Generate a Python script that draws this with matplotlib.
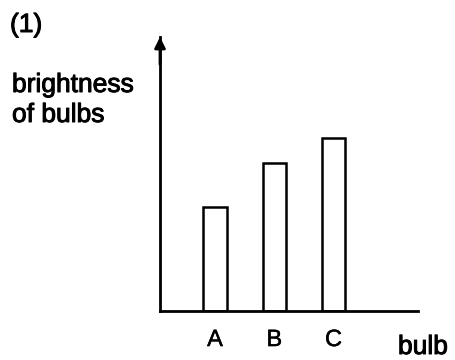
import matplotlib
matplotlib.use("Agg")
import matplotlib.pyplot as plt
import matplotlib.patheffects as pe

# Data
bulbs = ["A", "B", "C"]
brightness = [104, 148, 173]
y_top = 274
panel_label = "(1)"
y_label_lines = ["brightness", "of bulbs"]
x_label = "bulb"

plt.rcParams['font.family'] = ['Liberation Sans', 'DejaVu Sans']
thick = [pe.withStroke(linewidth=0.7, foreground="black")]

fig = plt.figure(figsize=(4.56, 3.6), dpi=100)
ax = fig.add_axes([160/456, (360-311)/360, (418-160)/456, 274/360])

pos = list(range(len(bulbs)))
ax.bar(pos, brightness, width=0.39, color="white", edgecolor="black",
       linewidth=1.8, joinstyle="miter")
ax.set_xlim(-0.928, 3.426)
ax.set_ylim(0, y_top)

for s in ["top", "right"]:
    ax.spines[s].set_visible(False)
for s in ["left", "bottom"]:
    ax.spines[s].set_linewidth(2.0)
    ax.spines[s].set_color("black")

ax.set_yticks([])
ax.set_xticks(pos)
ax.set_xticklabels(bulbs, fontsize=17)
for t in ax.get_xticklabels():
    t.set_path_effects([pe.withStroke(linewidth=0.3, foreground="black")])
ax.tick_params(axis="x", length=0, pad=13)

# arrow on y axis
ax.annotate("", xy=(0, 1.0), xytext=(0, 0.9), xycoords="axes fraction",
            arrowprops=dict(arrowstyle="-|>", color="black", lw=2.0,
                            mutation_scale=16, shrinkA=0, shrinkB=0),
            annotation_clip=False)

fig.text(10/456, (360-32)/360, panel_label, fontsize=19, ha="left", va="baseline",
         path_effects=thick)
fig.text(12/456, (360-92)/360, y_label_lines[0], fontsize=19, ha="left", va="baseline",
         path_effects=thick)
fig.text(12/456, (360-122)/360, y_label_lines[1], fontsize=19, ha="left", va="baseline",
         path_effects=thick)
fig.text(398/456, (360-354)/360, x_label, fontsize=19, ha="left", va="baseline",
         path_effects=thick)

fig.savefig("out.png", dpi=100)
